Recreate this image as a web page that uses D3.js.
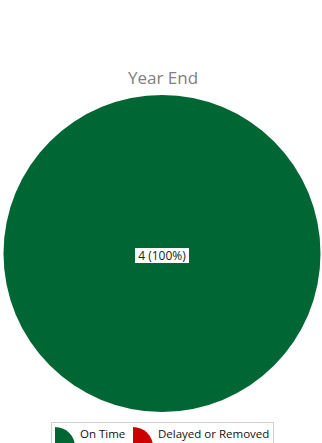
<!DOCTYPE html>
<html>
<head>
<meta charset="utf-8">
<script src="https://cdn.jsdelivr.net/npm/d3@7"></script>
<style>
  html, body { margin: 0; padding: 0; background: #fff; }
  svg { display: block; }
</style>
</head>
<body>
<svg id="chart" width="322" height="443"></svg>
<script>
// Year-end status counts
const categories = ["On Time", "Delayed or Removed"];
const counts = [4, 0];
const colors = ["#006633", "#cc0000"];
const title = "Year End";

const W = 322, H = 443;
const svg = d3.select("#chart");
const font = "'Open Sans', 'DejaVu Sans', sans-serif";

svg.append("rect").attr("width", W).attr("height", H).attr("fill", "#fff");

// Title
svg.append("text")
  .attr("x", 163).attr("y", 84)
  .attr("text-anchor", "middle")
  .attr("font-family", font)
  .attr("font-size", 17)
  .attr("fill", "#808080")
  .text(title);

// Pie
const cx = 162, cy = 253.5, r = 158.5;
const total = d3.sum(counts);
const data = categories.map((c, i) => ({ name: c, value: counts[i], color: colors[i] }));
const pie = d3.pie().sort(null).value(d => d.value);
const arc = d3.arc().innerRadius(0).outerRadius(r);
const g = svg.append("g").attr("transform", `translate(${cx},${cy})`);
const arcs = pie(data).filter(d => d.data.value > 0);

g.selectAll("path.slice").data(arcs).join("path")
  .attr("class", "slice")
  .attr("d", arc)
  .attr("fill", d => d.data.color);

// Value labels
arcs.forEach(d => {
  const pos = arcs.length === 1 ? [0, 2] : arc.centroid(d);
  const label = `${d.data.value} (${Math.round(d.data.value / total * 100)}%)`;
  const lg = g.append("g").attr("transform", `translate(${pos[0]},${pos[1]})`);
  const t = lg.append("text")
    .attr("text-anchor", "middle")
    .attr("dy", "0.36em")
    .attr("font-family", font)
    .attr("font-size", 12)
    .attr("fill", "#10261a")
    .text(label);
  const bb = t.node().getBBox();
  lg.insert("rect", "text")
    .attr("x", -27).attr("y", -7.5)
    .attr("width", Math.max(54, bb.width + 4)).attr("height", 15)
    .attr("fill", "#fff");
});

// Legend
const legend = svg.append("g");
legend.append("rect")
  .attr("x", 51.5).attr("y", 422.5)
  .attr("width", 222).attr("height", 30)
  .attr("fill", "#fff")
  .attr("stroke", "#cfcfcf");

const iconArc = d3.arc().innerRadius(0).outerRadius(20).startAngle(0).endAngle(Math.PI / 2);
const itemX = [55, 133];
data.forEach((d, i) => {
  const it = legend.append("g").attr("transform", `translate(${itemX[i]},447)`);
  it.append("path").attr("d", iconArc).attr("fill", d.color);
  it.append("text")
    .attr("x", 25).attr("y", -9)
    .attr("font-family", font)
    .attr("font-size", 11.5)
    .attr("fill", "#111")
    .text(d.name);
});
</script>
</body>
</html>
